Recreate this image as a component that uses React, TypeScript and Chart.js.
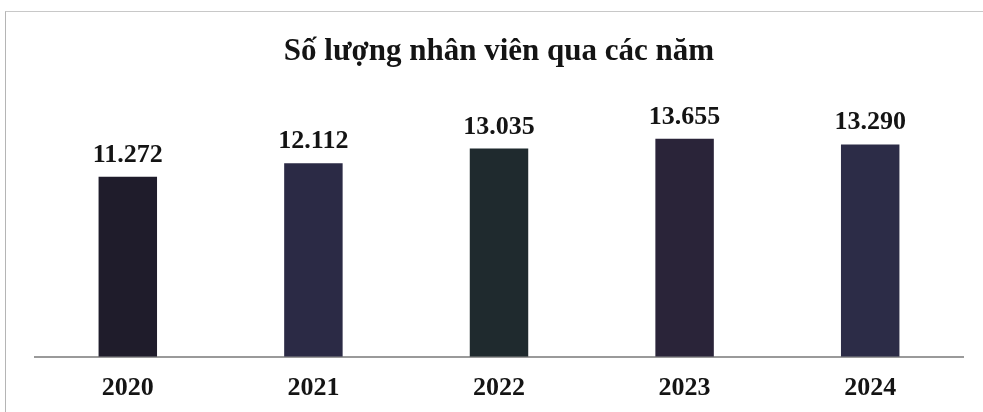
import React, { useEffect, useRef } from "react";
import { Chart, registerables } from "chart.js";

Chart.register(...registerables);

const titleText = "Số lượng nhân viên qua các năm";
const years = ["2020", "2021", "2022", "2023", "2024"];
const employees = [11272, 12112, 13035, 13655, 13290];
const valueLabels = ["11.272", "12.112", "13.035", "13.655", "13.290"];
const barColors = ["#1f1c2b", "#2b2a45", "#1f2a2e", "#2a2439", "#2c2c47"];

const FONT = "'Liberation Serif', 'Times New Roman', serif";

const valueLabelPlugin = {
  id: "valueLabels",
  afterDatasetsDraw(chart: any) {
    const ctx = chart.ctx;
    const meta = chart.getDatasetMeta(0);
    ctx.save();
    ctx.font = `bold 26px ${FONT}`;
    ctx.fillStyle = "#141414";
    ctx.textAlign = "center";
    ctx.textBaseline = "alphabetic";
    meta.data.forEach((bar: any, i: number) => {
      ctx.fillText(valueLabels[i], bar.x, bar.y - 15);
    });
    ctx.restore();
  },
};

export default function App() {
  const canvasRef = useRef<HTMLCanvasElement | null>(null);

  useEffect(() => {
    document.body.style.margin = "0";
    const canvas = canvasRef.current;
    if (!canvas) return;
    const chart = new Chart(canvas, {
      type: "bar",
      data: {
        labels: years,
        datasets: [
          {
            data: employees,
            backgroundColor: barColors,
            borderWidth: 0,
            barPercentage: 0.315,
            categoryPercentage: 1,
          },
        ],
      },
      options: {
        animation: false,
        responsive: false,
        maintainAspectRatio: false,
        layout: { padding: { left: 35, right: 20, top: 0, bottom: -8 } },
        plugins: {
          legend: { display: false },
          tooltip: { enabled: false },
          title: {
            display: true,
            text: titleText,
            color: "#141414",
            font: { family: FONT, size: 31, weight: "bold" },
            padding: { top: 33, bottom: 31 },
          },
        },
        scales: {
          x: {
            grid: { display: false, drawTicks: false },
            border: { display: true, color: "#9a9a9a", width: 2 },
            ticks: {
              color: "#141414",
              font: { family: FONT, size: 26, weight: "bold" },
              padding: 16,
            },
          },
          y: {
            display: false,
            min: 0,
            max: 16000,
          },
        },
      },
      plugins: [valueLabelPlugin],
    });
    return () => chart.destroy();
  }, []);

  return (
    <div style={{ position: "relative", width: 983, height: 412, background: "#ffffff" }}>
      <div
        style={{
          position: "absolute",
          left: 5,
          top: 11,
          width: 978,
          height: 401,
          borderLeft: "1px solid #b5b5b5",
          borderTop: "1px solid #c8c8c8",
        }}
      />
      <canvas
        ref={canvasRef}
        width={983}
        height={412}
        style={{ position: "absolute", left: 0, top: 0, width: 983, height: 412 }}
      />
    </div>
  );
}
